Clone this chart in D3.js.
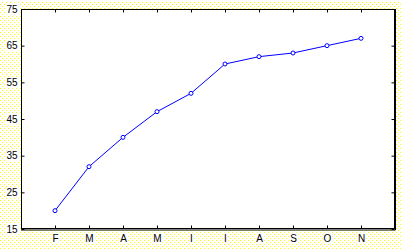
<!DOCTYPE html>
<html>
<head>
<meta charset="utf-8">
<script src="https://cdn.jsdelivr.net/npm/d3@7"></script>
<style>
  body { margin: 0; background: #fff; }
  svg { display: block; }
  .tick text { font-family: "Liberation Sans", Arial, sans-serif; font-size: 10px; fill: #000; }
</style>
</head>
<body>
<div id="chart"></div>
<script>
let months = ['F', 'M', 'A', 'M', 'I', 'I', 'A', 'S', 'O', 'N'];
let values = [20, 32, 40, 47, 52, 60, 62, 63, 65, 67];
let yTicks = [15, 25, 35, 45, 55, 65, 75];

let width = 406;
let height = 249;
let plotLeft = 21, plotTop = 9, plotRight = 395, plotBottom = 229;

let svg = d3.select('#chart')
  .append('svg')
  .attr('width', width)
  .attr('height', height);

// dotted yellow backdrop
let pat = svg.append('defs').append('pattern')
  .attr('id', 'dots')
  .attr('width', 4)
  .attr('height', 4)
  .attr('patternUnits', 'userSpaceOnUse');
pat.append('rect').attr('width', 4).attr('height', 4).attr('fill', '#fff');
[[0, 0], [2, 2]].forEach(p => {
  pat.append('rect').attr('x', p[0]).attr('y', p[1]).attr('width', 1).attr('height', 1).attr('fill', '#ffff00');
});

svg.append('rect')
  .attr('x', 0).attr('y', 1)
  .attr('width', 401).attr('height', 248)
  .attr('fill', 'url(#dots)');

svg.append('rect')
  .attr('x', plotLeft).attr('y', plotTop)
  .attr('width', plotRight - plotLeft).attr('height', plotBottom - plotTop)
  .attr('fill', '#fff');

let x = d3.scalePoint()
  .domain(d3.range(months.length))
  .range([plotLeft, plotRight])
  .padding(1);

let y = d3.scaleLinear()
  .domain([15, 75])
  .range([plotBottom, plotTop]);

let fixAxis = g => {
  g.select('.domain').remove();
  g.selectAll('.tick line').attr('stroke', '#000');
};

svg.append('g')
  .attr('class', 'yaxis')
  .attr('transform', 'translate(' + (plotLeft + 0.5) + ',0)')
  .call(d3.axisLeft(y).tickValues(yTicks).tickSize(-3).tickPadding(4))
  .call(fixAxis);

svg.append('g')
  .attr('transform', 'translate(' + (plotRight - 0.5) + ',0)')
  .call(d3.axisRight(y).tickValues(yTicks).tickSize(-3).tickFormat(''))
  .call(fixAxis);

svg.append('g')
  .attr('class', 'xaxis')
  .attr('transform', 'translate(0,' + (plotBottom - 0.5) + ')')
  .call(d3.axisBottom(x).tickSize(-3).tickPadding(6).tickFormat(i => months[i]))
  .call(fixAxis);

svg.append('g')
  .attr('transform', 'translate(0,' + (plotTop + 0.5) + ')')
  .call(d3.axisTop(x).tickSize(-3).tickFormat(''))
  .call(fixAxis);

// white boxes behind the tick labels
svg.selectAll('.yaxis .tick text, .xaxis .tick text').each(function() {
  let b = this.getBBox();
  d3.select(this.parentNode).insert('rect', 'text')
    .attr('x', b.x - 1).attr('y', b.y)
    .attr('width', b.width + 2).attr('height', b.height)
    .attr('fill', '#fff');
});

// frame
svg.append('rect')
  .attr('x', plotLeft + 0.5).attr('y', plotTop + 0.5)
  .attr('width', plotRight - plotLeft - 1).attr('height', plotBottom - plotTop - 1)
  .attr('fill', 'none')
  .attr('stroke', '#000');
svg.append('path')
  .attr('d', 'M' + (plotRight + 0.5) + ',' + plotTop + 'V' + (plotBottom + 1) + 'H' + plotLeft)
  .attr('fill', 'none')
  .attr('stroke', '#000');

let line = d3.line()
  .x((d, i) => x(i))
  .y(d => y(d));

svg.append('path')
  .datum(values)
  .attr('d', line)
  .attr('fill', 'none')
  .attr('stroke', '#0000ff')
  .attr('stroke-width', 1);

svg.selectAll('circle')
  .data(values)
  .enter()
  .append('circle')
  .attr('cx', (d, i) => x(i))
  .attr('cy', d => y(d))
  .attr('r', 2)
  .attr('fill', '#fff')
  .attr('stroke', '#0000ff')
  .attr('stroke-width', 1);
</script>
</body>
</html>
